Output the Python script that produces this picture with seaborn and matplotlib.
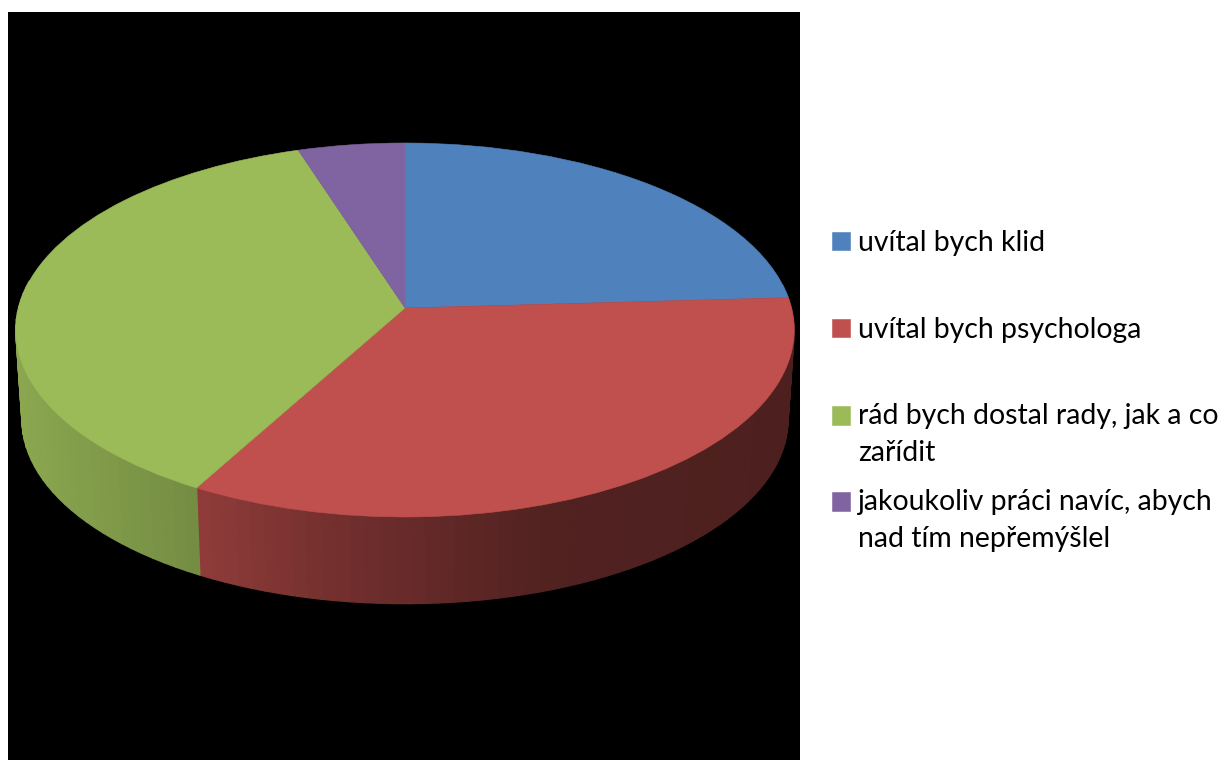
import numpy as np
import matplotlib
matplotlib.use("Agg")
import matplotlib.pyplot as plt
from matplotlib.collections import PolyCollection
from matplotlib.legend_handler import HandlerPatch
from matplotlib.patches import Rectangle
from matplotlib.transforms import Transform
import seaborn as sns

categories = [
    "uvítal bych klid",
    "uvítal bych psychologa",
    "rád bych dostal rady, jak a co\nzařídit",
    "jakoukoliv práci navíc, abych\nnad tím nepřemýšlel",
]
shares = [24.1, 33.94, 36.99, 4.97]
colours = ["#4F81BD", "#C0504D", "#9BBB59", "#8064A2"]

W, H = 1223, 760
CX, CY = 405.0, 308.0      # apex of the pie on the canvas
K = 0.1176                 # perspective strength
RX, RY = 386.5, 184.4      # radii before perspective
DEPTH, SHRINK = 90.0, 0.984  # wall drop and shrink of the lower rim

sns.set_theme(style="white")
plt.rcParams["font.family"] = ["Lato", "DejaVu Sans"]


def project(x, y):
    w = 1 + K * y
    return CX + RX * x / w, CY - RY * y / w


class Perspective(Transform):
    input_dims = output_dims = 2
    is_affine = False
    has_inverse = False

    def transform_non_affine(self, values):
        v = np.asarray(values, dtype=float)
        return np.column_stack(project(v[:, 0], v[:, 1]))


def wall_shade(px):
    return np.interp(px, [20, 197, 300, 450, 550, 800],
                     [0.89, 0.75, 0.63, 0.50, 0.42, 0.40])


fig = plt.figure(figsize=(W / 100, H / 100), dpi=100, facecolor="white")
ax = fig.add_axes([8 / W, 0, 792 / W, 748 / H])
ax.set_facecolor("black")
palette = sns.color_palette(colours)

# walls, drawn from the same shares as the top face
edges = 90 - 360 * np.concatenate([[0], np.cumsum(shares)]) / np.sum(shares)
for i, colour in enumerate(palette):
    angles = np.radians(np.linspace(edges[i], edges[i + 1],
                                    int(abs(edges[i] - edges[i + 1]) / 2) + 2))
    tx, ty = project(np.cos(angles), np.sin(angles))
    bx = CX + (tx - CX) * SHRINK
    by = CY + (ty - CY) * SHRINK + DEPTH
    quads, fills = [], []
    for j in range(len(angles) - 1):
        if np.sin(angles[j]) > 0.12 and np.sin(angles[j + 1]) > 0.12:
            continue
        quads.append([(tx[j], ty[j]), (tx[j + 1], ty[j + 1]),
                      (bx[j + 1], by[j + 1]), (bx[j], by[j])])
        fills.append(tuple(np.array(colour) * wall_shade((tx[j] + tx[j + 1]) / 2)))
    if quads:
        ax.add_collection(PolyCollection(quads, facecolors=fills, edgecolors=fills,
                                         linewidths=1.0, zorder=1))

# top face
wedges, _ = ax.pie(shares, colors=palette, startangle=90, counterclock=False,
                   radius=1, center=(0, 0), frame=True)
persp = Perspective() + ax.transData
for wedge in wedges:
    wedge.set_transform(persp)
    wedge.set_edgecolor(wedge.get_facecolor())
    wedge.set_linewidth(0.4)
    wedge.set_zorder(2)
    wedge.set_clip_on(True)

ax.set_aspect("auto")
ax.set_xlim(8, 800)
ax.set_ylim(760, 12)
ax.set_xticks([])
ax.set_yticks([])
for s in ax.spines.values():
    s.set_visible(False)


def first_line_square(raise_pt):
    # legend key that sits beside the first line of a wrapped label
    def make(legend, orig_handle, xdescent, ydescent, width, height, fontsize):
        return Rectangle((-xdescent, -ydescent + raise_pt), width, height)
    return HandlerPatch(patch_func=make)


# one legend per row, because the rows sit on an even pitch
FONT = 20.4
row_tops = [230, 317, 403, 489]
for wedge, label, top in zip(wedges, categories, row_tops):
    raise_pt = 13.7 if "\n" in label else 0
    leg = fig.legend([wedge], [label], loc="upper left",
                     bbox_to_anchor=(832 / W, 1 - top / H), frameon=False,
                     borderpad=0, borderaxespad=0, handlelength=0.64,
                     handleheight=0.64, handletextpad=0.29, fontsize=FONT,
                     labelcolor="black",
                     handler_map={wedge: first_line_square(raise_pt)})
    leg.get_texts()[0].set_linespacing(1.5)

fig.savefig("out.png", dpi=100, facecolor="white")
